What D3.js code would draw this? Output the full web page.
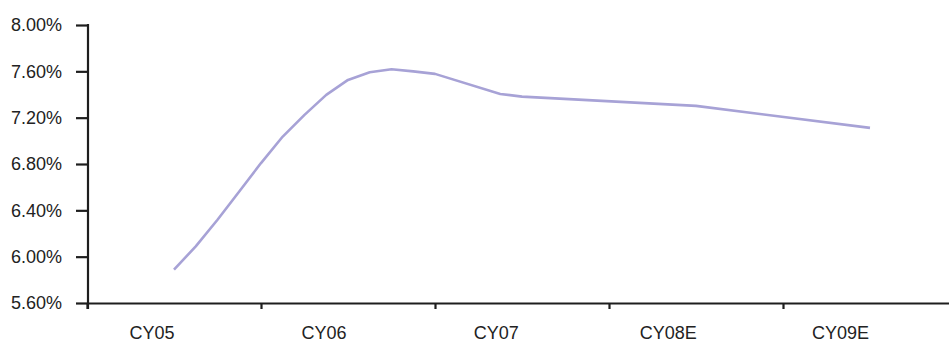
<!DOCTYPE html>
<html>
<head>
<meta charset="utf-8">
<script src="https://cdn.jsdelivr.net/npm/d3@7"></script>
<style>
  html, body { margin: 0; padding: 0; background: #fff; overflow: hidden; }
  svg { display: block; }
  text { font-family: "Liberation Sans", Arial, sans-serif; }
</style>
</head>
<body>
<svg id="chart" width="949" height="339"></svg>
<script>
// Year labels on the category axis
const categories = ["CY05", "CY06", "CY07", "CY08E", "CY09E"];
// Sub-period position of each observation (8 steps per year)
const periods = [4, 5, 6, 7, 8, 9, 10, 11, 12, 13, 14, 15, 16, 19, 20, 28, 36];
// Rate, in percent
const rates = [5.888, 6.089, 6.319, 6.563, 6.808, 7.037, 7.224, 7.397, 7.526, 7.592, 7.618,
               7.600, 7.578, 7.405, 7.382, 7.302, 7.112];
// Value axis ticks, in percent
const yTicks = [5.6, 6.0, 6.4, 6.8, 7.2, 7.6, 8.0];
// Year boundaries on the sub-period axis
const yearBounds = [0, 8, 16, 24, 32, 40];

const svg = d3.select("#chart");
const axisColor = "#1e1e1e";

const x = d3.scaleLinear().domain([0, 40]).range([87, 957]);
const y = d3.scaleLinear().domain([5.6, 8.0]).range([303, 25]);
const xLabel = d3.scalePoint().domain(categories).range([151.5, 839.9]);

// Value axis
const yAxis = svg.append("g")
  .attr("transform", "translate(88,0)")
  .call(d3.axisLeft(y)
    .tickValues(yTicks)
    .tickFormat(d => d.toFixed(2) + "%")
    .tickSize(12)
    .tickSizeOuter(0)
    .tickPadding(14));
yAxis.select(".domain").remove();
yAxis.selectAll(".tick line").attr("stroke", axisColor).attr("stroke-width", 2.2);
yAxis.selectAll(".tick text")
  .attr("fill", "#222")
  .style("font-size", "18px")
  .style("font-family", "'Liberation Sans', Arial, sans-serif");
svg.append("line")
  .attr("x1", 88).attr("x2", 88)
  .attr("y1", y(8.0) - 1).attr("y2", y(5.6) + 6)
  .attr("stroke", axisColor).attr("stroke-width", 2.2);

// Category axis line and year boundary ticks
const xAxis = svg.append("g")
  .attr("transform", `translate(0,${y(5.6)})`)
  .call(d3.axisBottom(x)
    .tickValues(yearBounds)
    .tickFormat("")
    .tickSize(6)
    .tickSizeOuter(0));
xAxis.select(".domain").attr("stroke", axisColor).attr("stroke-width", 2.2);
xAxis.selectAll(".tick line").attr("stroke", axisColor).attr("stroke-width", 2.2);

// Year labels
const xLabels = svg.append("g")
  .attr("transform", `translate(0,${y(5.6)})`)
  .call(d3.axisBottom(xLabel).tickSize(0).tickPadding(23));
xLabels.select(".domain").remove();
xLabels.selectAll(".tick text")
  .attr("fill", "#222")
  .style("font-size", "18px")
  .style("font-family", "'Liberation Sans', Arial, sans-serif");

// Rate line
const series = periods.map((p, i) => ({ p, v: rates[i] }));
svg.append("path")
  .datum(series)
  .attr("fill", "none")
  .attr("stroke", "#a7a2d6")
  .attr("stroke-width", 2.6)
  .attr("stroke-linejoin", "round")
  .attr("d", d3.line().x(d => x(d.p)).y(d => y(d.v)));
</script>
</body>
</html>
